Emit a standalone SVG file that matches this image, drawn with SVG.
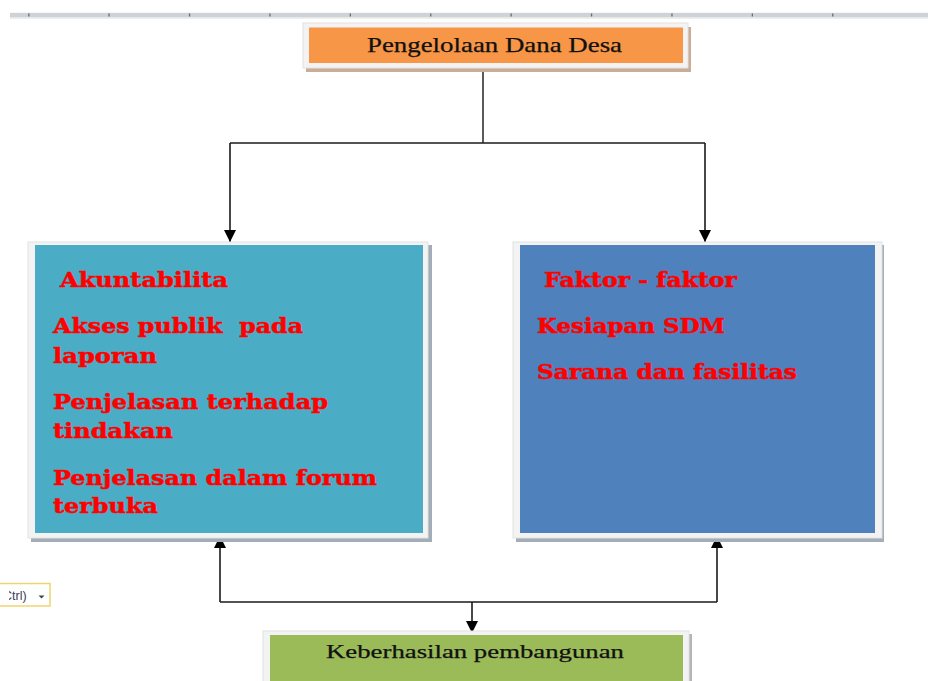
<svg xmlns="http://www.w3.org/2000/svg" width="928" height="681" viewBox="0 0 928 681">
  <style>
    .frame { fill: #f3f3f3; stroke: #e2e2e2; stroke-width: 1; }
    .title { font-family: "Liberation Serif", "Times New Roman", serif; fill: #111; stroke: #111; stroke-width: 0.25; }
    .red { font-family: "DejaVu Serif", "Liberation Serif", serif; font-weight: bold; font-size: 21px; fill: #ff0000; stroke: #ff0000; stroke-width: 0.5; }
    .conn { fill: none; stroke: #1a1a1a; stroke-width: 1.6; }
    .tick { fill: #6b6b6b; }
  </style>
  <defs>
    <marker id="arrow" markerUnits="userSpaceOnUse" markerWidth="14" markerHeight="12" refX="12" refY="6" orient="auto">
      <path d="M0,0 L12,6 L0,12 z" fill="#000"/>
    </marker>
    <clipPath id="ctrlclip">
      <rect x="9" y="580" width="60" height="30"/>
    </clipPath>
  </defs>
  <rect width="928" height="681" fill="#ffffff"/>

  <!-- ruler -->
  <g id="ruler">
    <rect x="10" y="12.8" width="918" height="4.8" fill="#cfd3d7"/>
    <rect x="10" y="17.6" width="918" height="1.4" fill="#eceef0"/>
    <rect class="tick" x="28.2" y="13.5" width="1.3" height="3"/>
    <rect class="tick" x="108.4" y="13.5" width="1.3" height="3"/>
    <rect class="tick" x="188.9" y="13.5" width="1.3" height="3"/>
    <rect class="tick" x="269.3" y="13.5" width="1.3" height="3"/>
    <rect class="tick" x="349.7" y="13.5" width="1.3" height="3"/>
    <rect class="tick" x="430.1" y="13.5" width="1.3" height="3"/>
    <rect class="tick" x="510.5" y="13.5" width="1.3" height="3"/>
    <rect class="tick" x="590.9" y="13.5" width="1.3" height="3"/>
    <rect class="tick" x="671.3" y="13.5" width="1.3" height="3"/>
    <rect class="tick" x="751.7" y="13.5" width="1.3" height="3"/>
    <rect class="tick" x="832.1" y="13.5" width="1.3" height="3"/>
  </g>

  <!-- connectors -->
  <g id="connectors">
    <path class="conn" d="M483,70 V143" style="stroke:#5a5a5a;stroke-width:2"/>
    <path class="conn" d="M230,143 H705"/>
    <path class="conn" d="M230,143 V242" marker-end="url(#arrow)"/>
    <path class="conn" d="M705,143 V242" marker-end="url(#arrow)"/>
    <path class="conn" d="M220,602 H717"/>
    <path class="conn" d="M220,602 V536" marker-end="url(#arrow)"/>
    <path class="conn" d="M717,602 V536" marker-end="url(#arrow)"/>
    <path class="conn" d="M472,602 V633" marker-end="url(#arrow)"/>
  </g>

  <!-- top node -->
  <g id="node-pengelolaan">
    <rect x="306" y="27" width="385" height="45" fill="#c9ad97"/>
    <rect class="frame" x="303" y="23" width="385" height="45"/>
    <rect x="309" y="27.5" width="374" height="35.5" fill="#f79646"/>
    <text class="title" x="367" y="51.5" font-size="21" textLength="255" lengthAdjust="spacingAndGlyphs">Pengelolaan Dana Desa</text>
  </g>

  <!-- left node -->
  <g id="node-akuntabilita">
    <rect x="31" y="245" width="401" height="297" fill="#a3adb8"/>
    <rect class="frame" x="28" y="242" width="400" height="296"/>
    <rect x="35" y="245" width="388" height="288" fill="#4bacc6"/>
    <text class="red" x="60" y="287" textLength="168" lengthAdjust="spacingAndGlyphs">Akuntabilita</text>
    <text class="red" x="53" y="333" textLength="250" lengthAdjust="spacingAndGlyphs" xml:space="preserve">Akses publik  pada</text>
    <text class="red" x="53" y="363" textLength="104" lengthAdjust="spacingAndGlyphs">laporan</text>
    <text class="red" x="53" y="409" textLength="275" lengthAdjust="spacingAndGlyphs">Penjelasan terhadap</text>
    <text class="red" x="53" y="438" textLength="120" lengthAdjust="spacingAndGlyphs">tindakan</text>
    <text class="red" x="53" y="485" textLength="324" lengthAdjust="spacingAndGlyphs">Penjelasan dalam forum</text>
    <text class="red" x="53" y="513" textLength="105" lengthAdjust="spacingAndGlyphs">terbuka</text>
  </g>

  <!-- right node -->
  <g id="node-faktor">
    <rect x="516" y="245" width="368" height="297" fill="#a3adb8"/>
    <rect class="frame" x="513" y="242" width="369" height="296"/>
    <rect x="520" y="245" width="355" height="288" fill="#4f81bd"/>
    <text class="red" x="544" y="287" textLength="193" lengthAdjust="spacingAndGlyphs">Faktor - faktor</text>
    <text class="red" x="537" y="333" textLength="188" lengthAdjust="spacingAndGlyphs">Kesiapan SDM</text>
    <text class="red" x="537" y="379" textLength="260" lengthAdjust="spacingAndGlyphs">Sarana dan fasilitas</text>
  </g>

  <!-- bottom node -->
  <g id="node-keberhasilan">
    <rect x="266" y="634" width="426" height="50" fill="#b5b5b5"/>
    <rect class="frame" x="263" y="631" width="426" height="54"/>
    <rect x="270" y="635" width="413" height="50" fill="#9bbb59"/>
    <text class="title" x="326" y="657.5" font-size="19" textLength="298" lengthAdjust="spacingAndGlyphs">Keberhasilan pembangunan</text>
  </g>

  <!-- paste options tag -->
  <g id="ctrl-tag">
    <rect x="-5" y="583.5" width="55" height="22.5" fill="#ffffff" stroke="#f0d56e" stroke-width="1.5"/>
    <text x="3" y="599.5" font-family="Liberation Sans, Arial, sans-serif" font-size="12.5" fill="#3d3d55" clip-path="url(#ctrlclip)">Ctrl)</text>
    <path d="M38.5,595.5 h6 l-3,3 z" fill="#444"/>
  </g>
</svg>
